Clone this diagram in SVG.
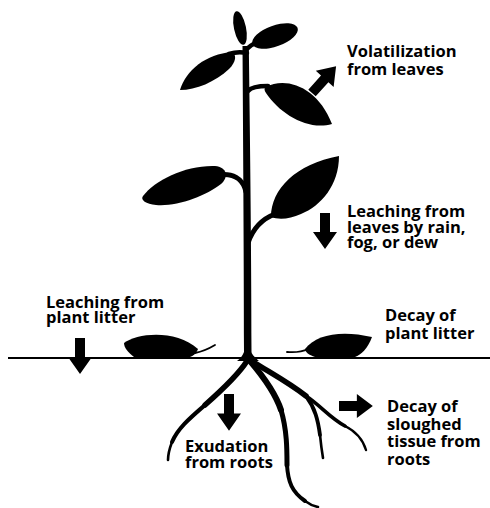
<svg xmlns="http://www.w3.org/2000/svg" xmlns:xlink="http://www.w3.org/1999/xlink" width="490" height="508" viewBox="0 0 490 508">
  <style>
    .lbl { font-family: "Open Sans", "Liberation Sans", sans-serif; font-weight: 700; font-size: 16.5px; fill: #000; }
    .ink { fill: #000; stroke: none; }
    .twig { fill: none; stroke: #000; stroke-linecap: round; stroke-linejoin: round; }
  </style>
  <defs>
    <!-- block arrow pointing down, origin at the top centre of the shaft -->
    <polygon id="blockArrow" points="-5,0 5,0 5,19 12,19 0,36 -12,19 -5,19" fill="#000"/>
  </defs>

  <rect width="490" height="508" fill="#fff"/>

  <!-- ground surface -->
  <line x1="8" y1="358" x2="490" y2="358" stroke="#000" stroke-width="2.2"/>

  <!-- the plant above ground -->
  <g id="plant">
    <!-- stem -->
    <path class="ink" d="M242.5,46 C243,120 244,250 244,352 C242.5,356 240,359 237,361 L259,361 C256,358 252,355 251.5,352 C251.5,250 249.8,120 248.8,46 Z"/>
    <!-- top bud leaf -->
    <ellipse class="ink" cx="240" cy="28" rx="6" ry="17" transform="rotate(-12 240 28)"/>
    <!-- top right leaf -->
    <path class="twig" stroke-width="4" d="M246,50 Q250,45 256,43"/>
    <ellipse class="ink" cx="275" cy="36" rx="24" ry="10.5" transform="rotate(-20 275 36)"/>
    <!-- upper left leaf -->
    <path class="twig" stroke-width="4.5" d="M229,54 Q238,51 247,53"/>
    <path class="ink" d="M180,90 C186,70 206,54 232,52 C237,55 236,62 229,69 C215,82 196,90 180,90 Z"/>
    <!-- middle right leaf -->
    <path class="twig" stroke-width="4.5" d="M248,91 Q252,86 268,86"/>
    <path class="ink" d="M266,87 C286,76 318,87 332,124 C308,131 280,114 266,93 C264,90 264,88 266,87 Z"/>
    <!-- lower left leaf -->
    <path class="twig" stroke-width="5" d="M218,175 C232,173 243,178 246,192"/>
    <path class="ink" d="M143,196 C155,180 186,165 215,166 C227,167 229,177 221,184 C206,196 176,207 156,205 C146,204 140,200 143,196 Z"/>
    <!-- lower right leaf -->
    <path class="twig" stroke-width="5" d="M248,243 C253,228 262,219 275,214"/>
    <path class="ink" d="M271,217 C271,189 296,164 339,156 C339,185 321,206 301,214 C290,219 279,220 271,217 Z"/>
  </g>

  <!-- fallen leaves lying on the ground -->
  <g id="litter">
    <path class="ink" d="M124,343 C137,333 176,329 198,349 C196,354 193,356 190,357 L134,357 C128,352 124,348 124,343 Z"/>
    <path class="twig" stroke-width="1.8" d="M195,353 Q205,351 215,345"/>
    <path class="ink" d="M305,349 C316,334 342,330 372,337 C368,348 361,355 355,357 L315,357 C309,355 305,352 305,349 Z"/>
    <path class="twig" stroke-width="1.8" d="M308,349 Q300,353 287,352"/>
  </g>

  <!-- root system -->
  <g id="roots">
    <!-- left root -->
    <path class="twig" stroke-width="5.5" d="M247,361 C240,372 222,390 205,405"/>
    <path class="twig" stroke-width="4" d="M205,405 C190,418 178,428 172,442"/>
    <path class="twig" stroke-width="2.6" d="M172,442 C169,450 168,455 168,460"/>
    <!-- central long root -->
    <path class="twig" stroke-width="6" d="M250,361 C262,375 275,392 281,410"/>
    <path class="twig" stroke-width="5" d="M281,410 C287,430 287,450 287,465"/>
    <path class="twig" stroke-width="4" d="M287,465 C288,482 292,492 305,501"/>
    <path class="twig" stroke-width="2.5" d="M305,501 C309,504 313,506 318,507"/>
    <!-- right root and its two branches -->
    <path class="twig" stroke-width="5.5" d="M252,361 C265,370 285,380 306,396"/>
    <path class="twig" stroke-width="3.8" d="M306,396 C315,408 318,420 320,435"/>
    <path class="twig" stroke-width="2.6" d="M320,435 C321,445 322,452 323,458"/>
    <path class="twig" stroke-width="3.6" d="M306,396 C320,405 330,418 345,426"/>
    <path class="twig" stroke-width="2.4" d="M345,426 C357,432 363,440 366,450"/>
  </g>

  <!-- transfer arrows -->
  <g id="connectors">
    <use xlink:href="#blockArrow" transform="translate(312,93) rotate(-138)"/>
    <use xlink:href="#blockArrow" transform="translate(325,213)"/>
    <use xlink:href="#blockArrow" transform="translate(80,338)"/>
    <use xlink:href="#blockArrow" transform="translate(229,394) scale(1,1.02)"/>
    <use xlink:href="#blockArrow" transform="translate(339,406) rotate(-90) scale(1,0.94)"/>
  </g>

  <g id="label-volatilization">
    <text class="lbl" x="347" y="57">Volatilization</text>
    <text class="lbl" x="347" y="75">from leaves</text>
  </g>
  <g id="label-leaching-leaves">
    <text class="lbl" x="347" y="217">Leaching from</text>
    <text class="lbl" x="347" y="232.5">leaves by rain,</text>
    <text class="lbl" x="347" y="248">fog, or dew</text>
  </g>
  <g id="label-leaching-litter">
    <text class="lbl" x="46" y="308">Leaching from</text>
    <text class="lbl" x="46" y="323">plant litter</text>
  </g>
  <g id="label-decay-litter">
    <text class="lbl" x="385" y="321">Decay of</text>
    <text class="lbl" x="385" y="339">plant litter</text>
  </g>
  <g id="label-exudation">
    <text class="lbl" x="185" y="452">Exudation</text>
    <text class="lbl" x="185" y="468">from roots</text>
  </g>
  <g id="label-decay-roots">
    <text class="lbl" x="387" y="412">Decay of</text>
    <text class="lbl" x="387" y="429.5">sloughed</text>
    <text class="lbl" x="387" y="447">tissue from</text>
    <text class="lbl" x="387" y="465">roots</text>
  </g>
</svg>
